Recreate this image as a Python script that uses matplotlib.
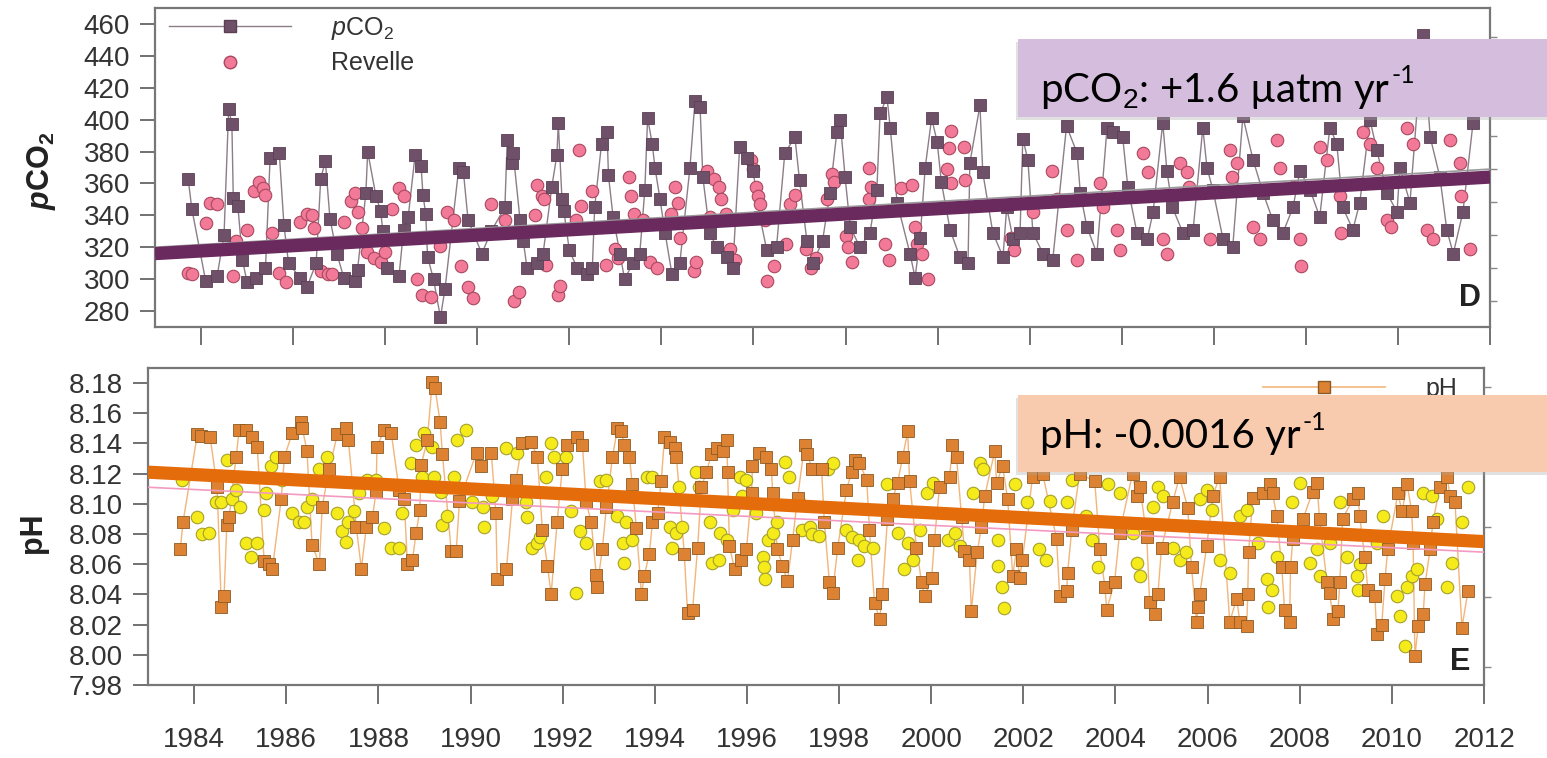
import numpy as np
import matplotlib
matplotlib.use("Agg")
import matplotlib.pyplot as plt
from matplotlib.lines import Line2D
from matplotlib.patches import Rectangle
from matplotlib.text import Annotation

plt.rcParams['font.family'] = ['Liberation Sans', 'DejaVu Sans']
plt.rcParams['mathtext.fontset'] = 'custom'
plt.rcParams['mathtext.rm'] = 'Liberation Sans'
plt.rcParams['mathtext.it'] = 'Liberation Sans:italic'
plt.rcParams['mathtext.bf'] = 'Liberation Sans:bold'
try:
    plt.rcParams['mathtext.bfit'] = 'Liberation Sans:italic:bold'
except KeyError:
    pass

# ---- pCO2 panel (D) ----
pco2_t = [1983.72, 1983.80, 1984.10, 1984.35, 1984.50, 1984.60, 1984.67, 1984.70, 1984.80, 1984.90,
          1985.00, 1985.20, 1985.40, 1985.50, 1985.70, 1985.80, 1985.90, 1986.15, 1986.30, 1986.50,
          1986.60, 1986.70, 1986.80, 1986.95, 1987.10, 1987.35, 1987.40, 1987.58, 1987.62, 1987.80,
          1987.90, 1987.95, 1988.05, 1988.30, 1988.40, 1988.50, 1988.65, 1988.78, 1988.82, 1988.88,
          1988.92, 1989.05, 1989.20, 1989.30, 1989.60, 1989.70, 1989.80, 1990.10, 1990.30, 1990.60,
          1990.65, 1990.75, 1990.78, 1990.93, 1991.00, 1991.08, 1991.30, 1991.43, 1991.62, 1991.73,
          1991.76, 1991.84, 1991.88, 1992.00, 1992.17, 1992.38, 1992.50, 1992.55, 1992.70, 1992.82,
          1992.85, 1992.95, 1993.10, 1993.20, 1993.38, 1993.53, 1993.64, 1993.70, 1993.80, 1993.86,
          1993.97, 1994.08, 1994.23, 1994.40, 1994.62, 1994.73, 1994.84, 1994.90, 1995.05, 1995.20,
          1995.42, 1995.55, 1995.70, 1995.86, 1995.99, 1996.14, 1996.29, 1996.50, 1996.68, 1996.90,
          1997.00, 1997.16, 1997.29, 1997.50, 1997.66, 1997.81, 1997.88, 1997.99, 1998.10, 1998.31,
          1998.53, 1998.68, 1998.75, 1998.90, 1998.97, 1999.12, 1999.40, 1999.51, 1999.62, 1999.73,
          1999.87, 1999.99, 2000.08, 2000.27, 2000.48, 2000.66, 2000.70, 2000.92, 2000.98, 2001.20,
          2001.42, 2001.50, 2001.64, 2001.79, 2001.85, 2001.96, 2002.07, 2002.29, 2002.50, 2002.80,
          2003.03, 2003.10, 2003.24, 2003.46, 2003.68, 2003.81, 2004.02, 2004.13, 2004.33, 2004.55,
          2004.68, 2004.89, 2004.98, 2005.10, 2005.33, 2005.55, 2005.76, 2005.85, 2005.98, 2006.20,
          2006.41, 2006.63, 2006.85, 2007.07, 2007.28, 2007.50, 2007.72, 2007.87, 2008.09, 2008.30,
          2008.52, 2008.67, 2008.80, 2009.02, 2009.17, 2009.39, 2009.54, 2009.76, 2009.98, 2010.04,
          2010.26, 2010.54, 2010.70, 2010.91, 2011.06, 2011.20, 2011.41, 2011.63]
pco2_v = [363, 344, 299, 302, 328, 407, 397, 351, 346, 312,
          298, 301, 307, 376, 379, 334, 310, 301, 295, 310,
          363, 374, 338, 316, 301, 299, 306, 354, 380, 352,
          343, 330, 307, 302, 331, 339, 378, 371, 353, 341,
          314, 300, 276, 294, 370, 367, 337, 316, 330, 345,
          387, 373, 379, 337, 324, 307, 310, 316, 358, 378,
          398, 350, 343, 318, 307, 303, 307, 345, 385, 392,
          365, 339, 316, 300, 310, 316, 356, 401, 385, 370,
          350, 329, 303, 310, 370, 412, 408, 364, 329, 320,
          314, 307, 383, 376, 368, 339, 318, 320, 379, 389,
          362, 324, 310, 324, 354, 392, 400, 364, 333, 320,
          329, 356, 404, 414, 395, 348, 316, 301, 326, 370,
          401, 386, 361, 331, 314, 310, 373, 409, 367, 329,
          314, 345, 325, 329, 388, 375, 329, 316, 312, 396,
          379, 354, 333, 316, 395, 392, 389, 358, 329, 325,
          342, 398, 368, 345, 329, 331, 395, 370, 356, 325,
          320, 402, 375, 354, 337, 329, 345, 368, 356, 339,
          395, 385, 345, 331, 348, 400, 381, 354, 342, 370,
          348, 453, 389, 364, 331, 316, 342, 398]

revelle_t = [1983.72, 1983.80, 1984.10, 1984.20, 1984.35, 1984.70, 1984.75, 1985.00, 1985.15, 1985.25,
             1985.35, 1985.40, 1985.55, 1985.70, 1985.85, 1986.15, 1986.30, 1986.40, 1986.45, 1986.60,
             1986.75, 1986.85, 1987.10, 1987.25, 1987.35, 1987.40, 1987.50, 1987.60, 1987.75, 1987.90,
             1988.00, 1988.15, 1988.30, 1988.40, 1988.70, 1988.80, 1989.00, 1989.20, 1989.35, 1989.50,
             1989.65, 1989.80, 1989.90, 1990.30, 1990.60, 1990.80, 1990.90, 1991.25, 1991.30, 1991.40,
             1991.45, 1991.50, 1991.75, 1991.80, 1992.15, 1992.20, 1992.25, 1992.50, 1992.80, 1993.00,
             1993.05, 1993.30, 1993.35, 1993.40, 1993.60, 1993.75, 1993.90, 1994.20, 1994.30, 1994.35,
             1994.40, 1994.70, 1994.75, 1995.00, 1995.05, 1995.15, 1995.25, 1995.30, 1995.40, 1995.50,
             1995.60, 1995.95, 1996.00, 1996.05, 1996.10, 1996.15, 1996.25, 1996.30, 1996.45, 1996.70,
             1996.80, 1996.90, 1997.15, 1997.25, 1997.35, 1997.60, 1997.70, 1997.75, 1998.00, 1998.05,
             1998.15, 1998.50, 1998.52, 1998.55, 1998.85, 1998.95, 1999.20, 1999.45, 1999.50, 1999.55,
             1999.65, 1999.80, 2000.20, 2000.25, 2000.28, 2000.30, 2000.57, 2000.60, 2001.60, 2001.65,
             2002.07, 2002.48, 2002.60, 2002.80, 2003.02, 2003.52, 2003.59, 2003.90, 2003.96, 2004.46,
             2004.57, 2004.89, 2004.98, 2005.26, 2005.41, 2005.45, 2005.91, 2006.35, 2006.40, 2006.50,
             2006.85, 2007.00, 2007.37, 2007.43, 2007.72, 2007.87, 2007.90, 2008.30, 2008.45, 2008.74,
             2008.76, 2009.24, 2009.39, 2009.54, 2009.76, 2009.85, 2010.20, 2010.33, 2010.63, 2010.76,
             2011.13, 2011.35, 2011.37, 2011.57]
revelle_v = [304, 303, 335, 348, 347, 302, 324, 331, 355, 361,
             357, 353, 329, 304, 298, 336, 341, 340, 332, 305,
             303, 303, 336, 349, 354, 342, 332, 317, 313, 311,
             317, 344, 357, 352, 300, 290, 289, 321, 342, 337,
             308, 295, 288, 347, 337, 286, 292, 340, 359, 352,
             350, 309, 290, 296, 337, 381, 346, 355, 309, 319,
             313, 364, 352, 341, 337, 311, 307, 341, 358, 348,
             326, 305, 311, 368, 339, 363, 358, 350, 341, 319,
             312, 375, 369, 358, 352, 347, 337, 299, 308, 322,
             347, 353, 319, 307, 313, 350, 366, 361, 327, 320,
             311, 370, 350, 358, 322, 312, 357, 359, 333, 322,
             316, 300, 369, 382, 360, 393, 383, 362, 326, 318,
             342, 368, 350, 331, 312, 360, 345, 331, 318, 379,
             367, 325, 316, 373, 367, 358, 325, 381, 364, 373,
             333, 325, 387, 370, 358, 325, 308, 383, 375, 352,
             329, 392, 385, 370, 337, 333, 395, 385, 331, 325,
             387, 373, 352, 319]

trend_t = [1983.0, 2012.0]
pco2_trend = [316, 364]
pco2_fit = [320, 369]

# ---- pH panel (E) ----
ph_t = [1983.70, 1983.76, 1984.07, 1984.15, 1984.35, 1984.50, 1984.59, 1984.65, 1984.71, 1984.76,
        1984.91, 1984.98, 1985.13, 1985.26, 1985.37, 1985.52, 1985.63, 1985.70, 1985.89, 1985.96,
        1986.13, 1986.32, 1986.35, 1986.45, 1986.56, 1986.72, 1986.78, 1986.93, 1987.11, 1987.30,
        1987.35, 1987.52, 1987.63, 1987.74, 1987.87, 1987.95, 1987.97, 1988.13, 1988.28, 1988.45,
        1988.56, 1988.63, 1988.74, 1988.82, 1988.90, 1988.93, 1989.06, 1989.17, 1989.23, 1989.34,
        1989.39, 1989.58, 1989.69, 1989.76, 1990.13, 1990.23, 1990.45, 1990.55, 1990.58, 1990.78,
        1990.91, 1990.99, 1991.12, 1991.32, 1991.45, 1991.56, 1991.67, 1991.75, 1991.88, 1991.99,
        1992.10, 1992.32, 1992.43, 1992.51, 1992.62, 1992.73, 1992.75, 1992.86, 1992.95, 1993.08,
        1993.19, 1993.27, 1993.34, 1993.45, 1993.51, 1993.60, 1993.71, 1993.77, 1993.88, 1993.95,
        1994.06, 1994.14, 1994.21, 1994.32, 1994.43, 1994.47, 1994.64, 1994.71, 1994.82, 1994.93,
        1995.01, 1995.12, 1995.23, 1995.34, 1995.47, 1995.56, 1995.58, 1995.62, 1995.73, 1995.88,
        1995.99, 1996.10, 1996.12, 1996.27, 1996.42, 1996.53, 1996.56, 1996.66, 1996.77, 1996.88,
        1996.99, 1997.10, 1997.25, 1997.31, 1997.42, 1997.62, 1997.68, 1997.79, 1997.86, 1997.97,
        1998.16, 1998.27, 1998.34, 1998.44, 1998.60, 1998.66, 1998.77, 1998.88, 1998.94, 1999.05,
        1999.16, 1999.27, 1999.38, 1999.49, 1999.53, 1999.68, 1999.79, 1999.86, 2000.01, 2000.07,
        2000.18, 2000.40, 2000.46, 2000.55, 2000.66, 2000.72, 2000.83, 2000.87, 2001.00, 2001.09,
        2001.16, 2001.38, 2001.42, 2001.55, 2001.66, 2001.77, 2001.85, 2001.92, 2001.98, 2002.20,
        2002.42, 2002.72, 2002.79, 2002.94, 2002.96, 2003.05, 2003.22, 2003.55, 2003.66, 2003.77,
        2003.81, 2003.98, 2004.09, 2004.37, 2004.46, 2004.53, 2004.68, 2004.74, 2004.85, 2004.92,
        2005.00, 2005.24, 2005.39, 2005.57, 2005.65, 2005.76, 2005.80, 2005.83, 2005.98, 2006.11,
        2006.26, 2006.48, 2006.63, 2006.70, 2006.85, 2006.87, 2006.89, 2006.98, 2007.20, 2007.35,
        2007.41, 2007.50, 2007.61, 2007.67, 2007.78, 2007.80, 2007.85, 2008.07, 2008.28, 2008.37,
        2008.43, 2008.59, 2008.65, 2008.72, 2008.83, 2008.87, 2008.93, 2009.15, 2009.26, 2009.30,
        2009.41, 2009.48, 2009.63, 2009.67, 2009.78, 2009.85, 2009.91, 2010.13, 2010.22, 2010.33,
        2010.43, 2010.46, 2010.50, 2010.57, 2010.68, 2010.72, 2010.83, 2010.89, 2011.04, 2011.20,
        2011.26, 2011.37, 2011.52, 2011.65]
ph_v = [8.070, 8.088, 8.146, 8.145, 8.144, 8.111, 8.032, 8.039, 8.086, 8.091,
        8.131, 8.149, 8.149, 8.144, 8.138, 8.062, 8.060, 8.057, 8.103, 8.131,
        8.147, 8.154, 8.150, 8.135, 8.073, 8.060, 8.098, 8.123, 8.146, 8.150,
        8.142, 8.085, 8.057, 8.085, 8.091, 8.108, 8.138, 8.149, 8.147, 8.109,
        8.103, 8.060, 8.063, 8.081, 8.096, 8.126, 8.142, 8.181, 8.177, 8.154,
        8.133, 8.069, 8.069, 8.102, 8.134, 8.125, 8.134, 8.094, 8.050, 8.057,
        8.103, 8.116, 8.140, 8.141, 8.131, 8.083, 8.059, 8.040, 8.088, 8.123,
        8.139, 8.144, 8.139, 8.101, 8.088, 8.053, 8.045, 8.070, 8.098, 8.131,
        8.150, 8.148, 8.139, 8.131, 8.113, 8.084, 8.040, 8.052, 8.067, 8.088,
        8.094, 8.115, 8.144, 8.141, 8.137, 8.131, 8.067, 8.028, 8.030, 8.071,
        8.111, 8.121, 8.133, 8.137, 8.135, 8.142, 8.121, 8.072, 8.057, 8.063,
        8.070, 8.107, 8.125, 8.134, 8.131, 8.123, 8.107, 8.070, 8.059, 8.049,
        8.076, 8.104, 8.139, 8.133, 8.123, 8.123, 8.088, 8.048, 8.041, 8.071,
        8.109, 8.121, 8.129, 8.127, 8.116, 8.083, 8.034, 8.024, 8.040, 8.090,
        8.103, 8.114, 8.131, 8.148, 8.115, 8.071, 8.048, 8.039, 8.051, 8.076,
        8.111, 8.118, 8.139, 8.131, 8.091, 8.069, 8.063, 8.029, 8.068, 8.085,
        8.105, 8.135, 8.114, 8.125, 8.103, 8.052, 8.070, 8.051, 8.063, 8.118,
        8.120, 8.077, 8.039, 8.042, 8.054, 8.083, 8.120, 8.115, 8.070, 8.045,
        8.030, 8.048, 8.081, 8.120, 8.105, 8.111, 8.078, 8.035, 8.027, 8.040,
        8.071, 8.101, 8.118, 8.097, 8.058, 8.022, 8.032, 8.040, 8.072, 8.105,
        8.118, 8.022, 8.037, 8.022, 8.019, 8.040, 8.068, 8.104, 8.107, 8.113,
        8.107, 8.092, 8.058, 8.030, 8.022, 8.058, 8.077, 8.090, 8.108, 8.114,
        8.090, 8.048, 8.041, 8.024, 8.029, 8.048, 8.090, 8.103, 8.107, 8.092,
        8.065, 8.043, 8.039, 8.014, 8.020, 8.050, 8.070, 8.107, 8.095, 8.113,
        8.095, 8.074, 7.999, 8.019, 8.027, 8.047, 8.070, 8.088, 8.111, 8.118,
        8.105, 8.101, 8.018, 8.042]

ph2_t = [1983.74, 1984.07, 1984.17, 1984.33, 1984.48, 1984.59, 1984.72, 1984.83, 1984.91, 1985.00,
         1985.13, 1985.24, 1985.37, 1985.52, 1985.56, 1985.67, 1985.78, 1985.91, 1986.13, 1986.28,
         1986.39, 1986.45, 1986.56, 1986.72, 1986.89, 1987.11, 1987.21, 1987.30, 1987.35, 1987.48,
         1987.58, 1987.76, 1987.95, 1988.13, 1988.28, 1988.45, 1988.52, 1988.71, 1988.82, 1988.95,
         1989.00, 1989.17, 1989.21, 1989.36, 1989.39, 1989.50, 1989.65, 1989.71, 1989.91, 1990.04,
         1990.26, 1990.30, 1990.47, 1990.78, 1991.00, 1991.20, 1991.23, 1991.34, 1991.45, 1991.50,
         1991.64, 1991.75, 1991.82, 1992.08, 1992.19, 1992.30, 1992.37, 1992.51, 1992.80, 1992.95,
         1993.19, 1993.30, 1993.34, 1993.38, 1993.51, 1993.82, 1993.95, 1994.32, 1994.38, 1994.47,
         1994.53, 1994.60, 1994.90, 1994.97, 1995.19, 1995.25, 1995.40, 1995.42, 1995.56, 1995.69,
         1995.84, 1995.90, 1995.99, 1996.20, 1996.34, 1996.38, 1996.40, 1996.45, 1996.56, 1996.66,
         1996.82, 1996.92, 1997.14, 1997.20, 1997.36, 1997.42, 1997.57, 1997.75, 1997.86, 1998.16,
         1998.29, 1998.40, 1998.44, 1998.55, 1998.73, 1999.03, 1999.27, 1999.42, 1999.49, 1999.60,
         1999.75, 1999.90, 2000.03, 2000.36, 2000.51, 2000.62, 2000.90, 2001.05, 2001.12, 2001.44,
         2001.46, 2001.53, 2001.57, 2001.81, 2002.07, 2002.35, 2002.50, 2002.57, 2002.94, 2003.05,
         2003.37, 2003.48, 2003.61, 2003.83, 2004.09, 2004.37, 2004.46, 2004.53, 2004.81, 2004.92,
         2005.03, 2005.24, 2005.39, 2005.54, 2005.83, 2005.98, 2006.09, 2006.26, 2006.48, 2006.70,
         2006.85, 2007.09, 2007.28, 2007.30, 2007.39, 2007.50, 2007.83, 2008.00, 2008.22, 2008.37,
         2008.43, 2008.65, 2008.87, 2009.02, 2009.24, 2009.26, 2009.30, 2009.67, 2009.80, 2010.10,
         2010.17, 2010.28, 2010.33, 2010.43, 2010.54, 2010.68, 2010.87, 2010.98, 2011.20, 2011.30,
         2011.52, 2011.65]
ph2_v = [8.116, 8.091, 8.080, 8.081, 8.101, 8.101, 8.129, 8.103, 8.109, 8.098,
         8.074, 8.065, 8.074, 8.096, 8.107, 8.125, 8.131, 8.116, 8.094, 8.088,
         8.088, 8.098, 8.103, 8.123, 8.131, 8.094, 8.082, 8.075, 8.088, 8.095,
         8.107, 8.116, 8.116, 8.084, 8.071, 8.071, 8.094, 8.127, 8.139, 8.118,
         8.147, 8.138, 8.118, 8.108, 8.086, 8.092, 8.118, 8.142, 8.149, 8.101,
         8.098, 8.085, 8.105, 8.137, 8.134, 8.101, 8.091, 8.071, 8.074, 8.078,
         8.118, 8.140, 8.131, 8.131, 8.095, 8.041, 8.082, 8.074, 8.115, 8.116,
         8.092, 8.074, 8.061, 8.088, 8.076, 8.118, 8.118, 8.085, 8.071, 8.081,
         8.111, 8.085, 8.121, 8.111, 8.088, 8.061, 8.063, 8.081, 8.076, 8.096,
         8.118, 8.105, 8.116, 8.094, 8.065, 8.058, 8.050, 8.076, 8.081, 8.088,
         8.128, 8.118, 8.101, 8.083, 8.085, 8.080, 8.079, 8.123, 8.127, 8.083,
         8.078, 8.063, 8.076, 8.072, 8.071, 8.113, 8.081, 8.057, 8.074, 8.063,
         8.083, 8.107, 8.114, 8.076, 8.081, 8.072, 8.107, 8.127, 8.123, 8.059,
         8.076, 8.045, 8.031, 8.113, 8.101, 8.070, 8.063, 8.102, 8.101, 8.116,
         8.092, 8.076, 8.058, 8.113, 8.107, 8.081, 8.061, 8.052, 8.098, 8.111,
         8.105, 8.071, 8.063, 8.068, 8.103, 8.109, 8.096, 8.063, 8.054, 8.092,
         8.096, 8.074, 8.050, 8.032, 8.043, 8.065, 8.101, 8.114, 8.061, 8.070,
         8.052, 8.074, 8.101, 8.065, 8.052, 8.043, 8.060, 8.074, 8.092, 8.039,
         8.026, 8.006, 8.045, 8.052, 8.057, 8.107, 8.105, 8.090, 8.045, 8.061,
         8.088, 8.111]

ph_trend = [8.121, 8.075]
ph_fit = [8.111, 8.068]

years = list(range(1984, 2013, 2))

# ---- figure ----
fig = plt.figure(figsize=(15.47, 7.58), dpi=100)
ax1 = fig.add_axes([0.1002, 0.5686, 0.8630, 0.4208])
ax2 = fig.add_axes([0.0957, 0.0963, 0.8636, 0.4182])

sq_top = '#6e5069'
pink = '#f27a98'
sq_bot = '#dc8232'
yellow = '#f5ea1a'

ax1.plot(pco2_t, pco2_v, color='#8c7d88', lw=1, zorder=2)
ax1.plot(revelle_t, revelle_v, 'o', ms=9, mfc=pink, mec='#a8485f', mew=0.8, ls='none', zorder=3)
ax1.plot(pco2_t, pco2_v, 's', ms=9, mfc=sq_top, mec='#5a3f55', mew=0.6, ls='none', zorder=4)
ax1.plot(trend_t, pco2_fit, color='#9a9a9a', lw=1.2, zorder=4)
ax1.plot(trend_t, pco2_trend, color='#6a2a5e', lw=9.5, solid_capstyle='butt', zorder=6)

ax2.plot(ph_t, ph_v, color='#f2b57a', lw=1, zorder=2)
ax2.plot(ph2_t, ph2_v, 'o', ms=9, mfc=yellow, mec='#a6a02a', mew=0.8, ls='none', zorder=3)
ax2.plot(ph_t, ph_v, 's', ms=9, mfc=sq_bot, mec='#8c5a24', mew=0.6, ls='none', zorder=4)
ax2.plot(trend_t, ph_fit, color='#f39ac0', lw=1.2, zorder=5)
ax2.plot(trend_t, ph_trend, color='#e46c0a', lw=9.5, solid_capstyle='butt', zorder=6)

for ax in (ax1, ax2):
    ax.set_xlim(1983.0, 2012.0)
    ax.set_xticks(years)
    for s in ax.spines.values():
        s.set_color('#777777')
        s.set_linewidth(1.6)
    ax.tick_params(axis='y', direction='out', length=11, width=1.3, color='#666666',
                   labelcolor='#333333', labelsize=20, pad=7)
    ax.tick_params(axis='x', direction='out', length=14, width=1.3, color='#666666',
                   labelcolor='#333333', labelsize=20, pad=16)

ax1.set_ylim(270, 470)
ax1.set_yticks(range(280, 461, 20))
ax1.tick_params(axis='x', labelbottom=False, length=13)

ax2.set_ylim(7.98, 8.19)
ax2.set_yticks(np.round(np.arange(7.98, 8.181, 0.02), 2))
ax2.yaxis.set_major_formatter(matplotlib.ticker.FormatStrFormatter('%.2f'))

# small ticks on the right side
r1 = ax1.twinx()
r1.set_ylim(0, 9.67)
r1.set_yticks(np.arange(0.8, 9.6, 1.0))
r1.tick_params(axis='y', length=5, width=1, color='#888888', labelright=False)
r1.spines[:].set_visible(False)
r2 = ax2.twinx()
r2.set_ylim(0, 4.53)
r2.set_yticks(np.arange(0.26, 4.5, 1.0))
r2.tick_params(axis='y', length=5, width=1, color='#888888', labelright=False)
r2.spines[:].set_visible(False)

ax1.set_ylabel(r'$\mathbfit{p}\mathbf{CO_2}$', fontsize=22, color='#222222')
ax1.yaxis.set_label_coords(-0.073, 0.49)
ax2.set_ylabel('pH', fontsize=22, fontweight='bold', color='#222222')
ax2.yaxis.set_label_coords(-0.075, 0.48)

ax1.text(0.985, 0.09, 'D', transform=ax1.transAxes, fontsize=22, fontweight='bold',
         ha='center', va='center', color='#222222', zorder=7)
ax2.text(0.982, 0.073, 'E', transform=ax2.transAxes, fontsize=22, fontweight='bold',
         ha='center', va='center', color='#222222', zorder=7)

h1 = [Line2D([], [], color='#8c7d88', lw=1, marker='s', ms=9, mfc=sq_top, mec='#5a3f55'),
      Line2D([], [], ls='none', marker='o', ms=9, mfc=pink, mec='#a8485f')]
leg1 = ax1.legend(h1, [r'$\mathit{p}$CO$_\mathrm{2}$', 'Revelle'], loc='upper left', frameon=False,
                  fontsize=18, handlelength=4.9, handletextpad=1.6, labelspacing=0.38,
                  bbox_to_anchor=(0.0075, 0.99), borderaxespad=0.05, borderpad=0.1)
for t in leg1.get_texts():
    t.set_color('#333333')
h2 = [Line2D([], [], color='#f2b57a', lw=1.2, marker='s', ms=9, mfc=sq_bot, mec='#8c5a24')]
leg2 = ax2.legend(h2, ['pH'], loc='upper right', frameon=False, fontsize=18,
                  handlelength=4.9, handletextpad=1.6, bbox_to_anchor=(0.9835, 0.987),
                  borderaxespad=0.1, borderpad=0.1)
for t in leg2.get_texts():
    t.set_color('#333333')

# annotation boxes
for (y0, h, col) in [(0.8456, 0.1029, '#d5bedd'), (0.3773, 0.1016, '#f9cbae')]:
    fig.add_artist(Rectangle((0.6565, y0 - 0.004), 0.36, h, transform=fig.transFigure,
                             facecolor='#aaaaaa', alpha=0.35, edgecolor='none', zorder=9))
    fig.add_artist(Rectangle((0.658, y0), 0.36, h, transform=fig.transFigure,
                             facecolor=col, edgecolor='none', zorder=10))

box_font = ['Lato', 'DejaVu Sans']
for (y, label) in [(0.8654, r'pCO$_\mathrm{2}$: +1.6 µatm yr'), (0.409, 'pH: -0.0016 yr')]:
    main = fig.text(0.6723, y, label, fontsize=29, family=box_font,
                    va='baseline', ha='left', color='black', zorder=11)
    sup = Annotation('-1', xy=(1.0, 1.0), xycoords=main, xytext=(1, 5),
                     textcoords='offset points', ha='left', va='top', fontsize=18,
                     family=box_font, color='black', zorder=11, annotation_clip=False)
    fig.add_artist(sup)

fig.savefig('out.png', dpi=100)
